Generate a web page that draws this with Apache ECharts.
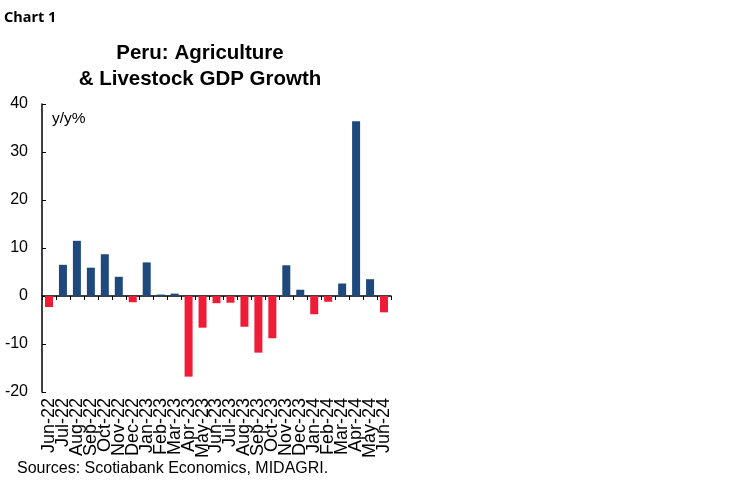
<!DOCTYPE html>
<html><head><meta charset="utf-8">
<script src="https://cdn.jsdelivr.net/npm/echarts@6/dist/echarts.min.js"></script>
<style>html,body{margin:0;padding:0;background:#fff}#c{width:748px;height:483px}</style>
</head><body><div id="c"></div>
<script>
const categories = ["Jun-22","Jul-22","Aug-22","Sep-22","Oct-22","Nov-22","Dec-22","Jan-23","Feb-23","Mar-23","Apr-23","May-23","Jun-23","Jul-23","Aug-23","Sep-23","Oct-23","Nov-23","Dec-23","Jan-24","Feb-24","Mar-24","Apr-24","May-24","Jun-24"];
const values = [-2.3,6.5,11.5,5.9,8.7,4.0,-1.3,7.0,0.3,0.5,-16.8,-6.6,-1.5,-1.4,-6.4,-11.8,-8.8,6.4,1.3,-3.8,-1.2,2.6,36.4,3.5,-3.4];
const yTicks = {min:-20, max:40, interval:10};
const BLUE = '#1F497D', RED = '#EE1C36';
const chart = echarts.init(document.getElementById('c'));
chart.setOption({
  animation:false,
  textStyle:{fontFamily:'Liberation Sans'},
  title:[
    {text:'Chart 1', left:-1, top:5, textStyle:{fontFamily:'Noto Sans', fontWeight:'bold', fontSize:14.5, color:'#000'}},
    {text:'Peru: Agriculture\n& Livestock GDP Growth', left:195, textAlign:'center', top:35, textStyle:{fontFamily:'Liberation Sans', fontWeight:'bold', fontSize:20.5, lineHeight:26, color:'#000'}},
    {text:'Sources: Scotiabank Economics, MIDAGRI.', left:12, top:456, textStyle:{fontFamily:'Liberation Sans', fontWeight:'normal', fontSize:16, color:'#000'}},
    {text:'y/y%', left:47, top:106, textStyle:{fontFamily:'Liberation Sans', fontWeight:'normal', fontSize:15.5, color:'#000'}}
  ],
  grid:{left:42, top:104, right:357, bottom:91, containLabel:false},
  xAxis:[
    {type:'category', data:categories, axisLine:{onZero:true, lineStyle:{color:'#000', width:1.5}},
     axisTick:{show:true, inside:false, interval:0, length:4, lineStyle:{color:'#000'}}, axisLabel:{show:false}},
    {type:'category', data:categories, position:'bottom', offset:0, axisLine:{show:false}, axisTick:{show:false},
     axisLabel:{show:true, rotate:90, interval:0, margin:6, fontSize:18, color:'#000', fontFamily:'Liberation Sans'}}
  ],
  yAxis:{type:'value', min:yTicks.min, max:yTicks.max, interval:yTicks.interval,
    axisLine:{show:true, lineStyle:{color:'#000', width:1.5}}, axisTick:{show:true, inside:true, length:4, lineStyle:{color:'#000'}},
    splitLine:{show:false}, axisLabel:{fontSize:16, color:'#000', margin:14}},
  series:[{type:'bar', xAxisIndex:0, barWidth:8,
    data: values.map(v=>({value:v, itemStyle:{color: v>=0?BLUE:RED}}))}]
});
</script></body></html>
